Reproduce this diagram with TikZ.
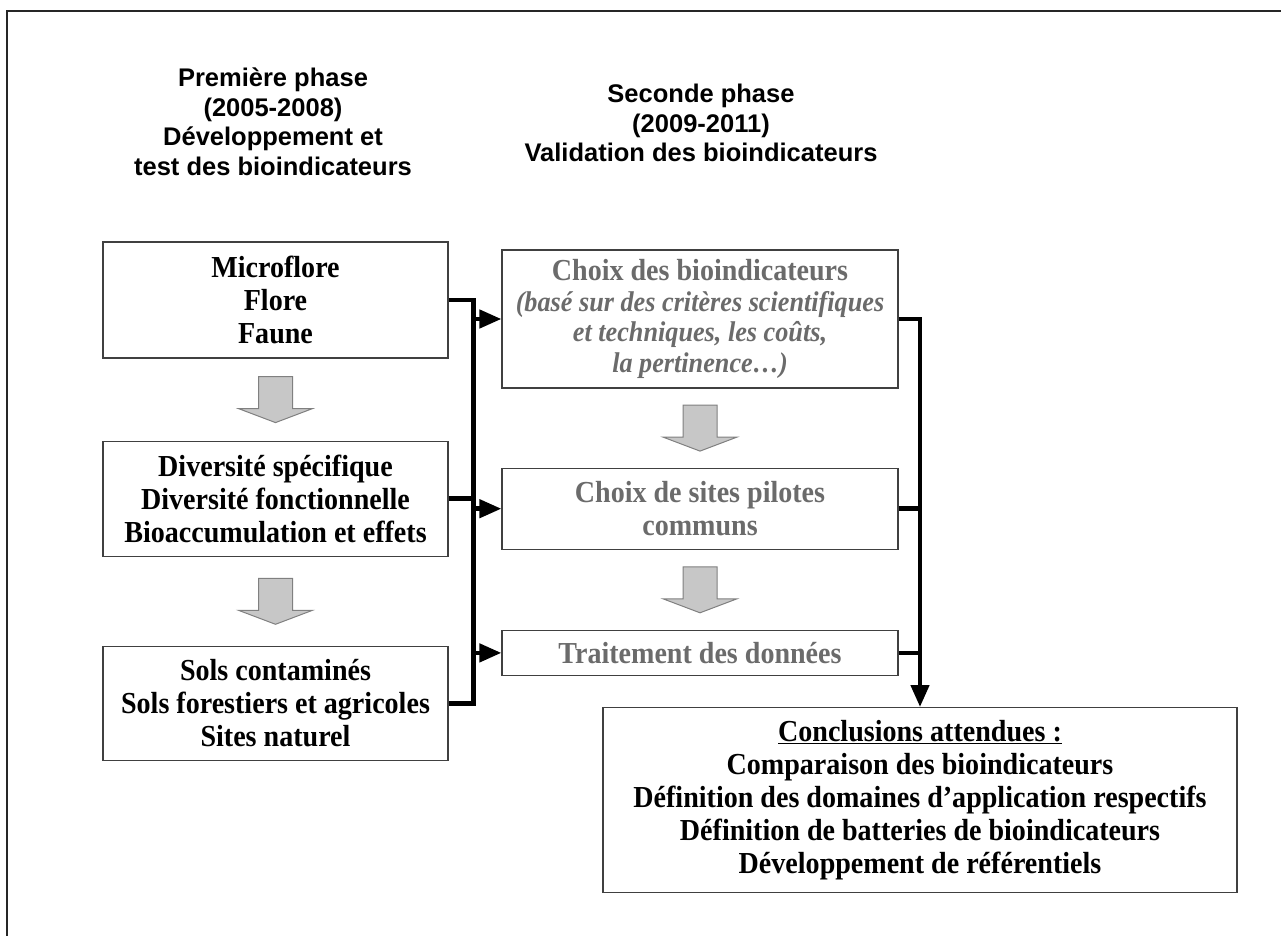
\documentclass[tikz,border=0pt]{standalone}
\usepackage{fontspec}
\setmainfont{Liberation Serif}[FakeStretch=0.92]
\newfontfamily\headfont{Liberation Sans}
\usepackage{tikz}
\usetikzlibrary{positioning}
\usetikzlibrary{calc}
\usetikzlibrary{arrows.meta}

\begin{document}
\begin{tikzpicture}
  [x=1pt, y=-1pt,
   box/.style={draw=black!75, line width=1.2pt, fill=white, align=center, inner sep=4pt,
     font=\fontsize{30.5}{33}\selectfont\bfseries},
   greybox/.style={box, text=black!58},
   phase/.style={align=center, font=\headfont\fontsize{25.5}{29.5}\selectfont\bfseries},
   link/.style={line width=4.5pt},
   tip/.style={link, -{Triangle[length=22pt,width=18pt]}},
   blockarrow/.pic={\draw[draw=black!50, fill=black!22, line width=1pt]
     (-17,-23) -- (17,-23) -- (17,9) -- (37,9) -- (0,23) -- (-37,9) -- (-17,9) -- cycle;}]
  \useasboundingbox (0,0) rectangle (1281,936);
  \draw[line width=2.5pt, black!85] (7,936) -- (7,11) -- (1281,11);

  \node[phase] (p1) at (273,122) {Première phase\\(2005-2008)\\Développement et\\test des bioindicateurs};
  \node[phase] (p2) at (701,123) {Seconde phase\\(2009-2011)\\Validation des bioindicateurs};

  \node[box, minimum width=345pt, minimum height=116pt] (m1) at (275.5,300) {Microflore\\Flore\\Faune};
  \node[box, minimum width=345pt, minimum height=115pt, below=82pt of m1] (m2)
    {Diversité spécifique\\Diversité fonctionnelle\\Bioaccumulation et effets};
  \node[box, minimum width=345pt, minimum height=114pt, below=89pt of m2] (m3)
    {Sols contaminés\\Sols forestiers et agricoles\\Sites naturel};

  \node[greybox, minimum width=396pt, minimum height=138pt, inner xsep=0pt,
    font=\fontsize{30.5}{30.5}\selectfont\bfseries] (c1) at (700,319)
    {Choix des bioindicateurs\\{\fontsize{28.5}{30.5}\selectfont\itshape (basé sur des critères scientifiques}\\
     {\fontsize{28.5}{30.5}\selectfont\itshape et techniques, les coûts,}\\{\fontsize{28.5}{30.5}\selectfont\itshape la pertinence…)}};
  \node[greybox, minimum width=396pt, minimum height=81pt, below=79pt of c1] (c2) {Choix de sites pilotes\\communs};
  \node[greybox, minimum width=396pt, minimum height=45pt, below=80pt of c2] (c3) {Traitement des données};

  \node[box, minimum width=634pt, minimum height=185pt, anchor=north] (conc) at (920,707)
    {\underline{Conclusions attendues :}\\Comparaison des bioindicateurs\\Définition des domaines d’application respectifs\\Définition de batteries de bioindicateurs\\Développement de référentiels};

  \pic at ($(m1.south)!0.5!(m2.north)$) {blockarrow};
  \pic at ($(m2.south)!0.5!(m3.north)$) {blockarrow};
  \pic at ($(c1.south)!0.5!(c2.north)$) {blockarrow};
  \pic at ($(c2.south)!0.5!(c3.north)$) {blockarrow};

  \draw[link] (m1.east) -- ++(25,0) coordinate (bus) |- (m3.east);
  \draw[link] (m2.east) -- (m2.east -| bus);
  \draw[tip] (c1.west -| bus) -- (c1.west);
  \draw[tip] (c2.west -| bus) -- (c2.west);
  \draw[tip] (c3.west -| bus) -- (c3.west);

  \draw[tip] (c1.east) -| (conc.north);
  \draw[link] (c2.east) -- (c2.east -| conc.north);
  \draw[link] (c3.east) -- (c3.east -| conc.north);
\end{tikzpicture}
\end{document}
